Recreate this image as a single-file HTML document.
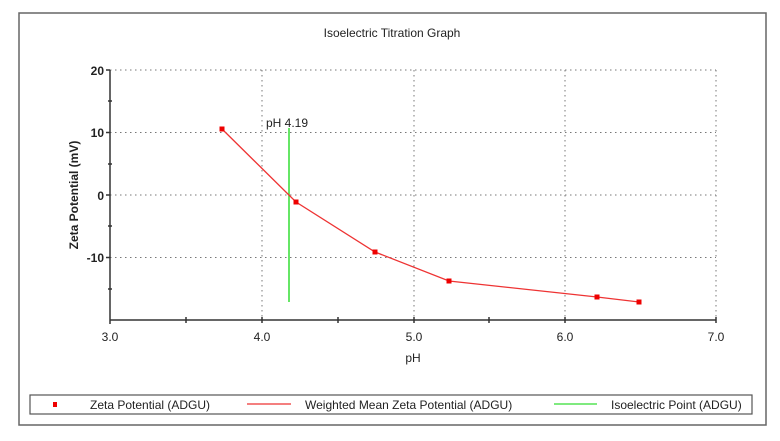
<!DOCTYPE html><html><head><style>body{margin:0;background:#fff}svg{display:block}</style></head><body>
<svg width="780" height="441" xmlns="http://www.w3.org/2000/svg" font-family="Liberation Sans, sans-serif">
<rect x="19" y="13" width="747" height="412" fill="#fff" stroke="#666" stroke-width="1.5"/>
<text x="392" y="37" font-size="12" text-anchor="middle" fill="#222">Isoelectric Titration Graph</text>
<g stroke="#777" stroke-width="1" stroke-dasharray="1.5,3.5">
<line x1="110" y1="70" x2="716" y2="70"/><line x1="110" y1="132.5" x2="716" y2="132.5"/><line x1="110" y1="195" x2="716" y2="195"/><line x1="110" y1="257.5" x2="716" y2="257.5"/>
<line x1="262" y1="70" x2="262" y2="320"/><line x1="414" y1="70" x2="414" y2="320"/><line x1="565" y1="70" x2="565" y2="320"/><line x1="716" y1="70" x2="716" y2="320"/>
</g>
<g stroke="#333" stroke-width="1.5">
<line x1="110" y1="70" x2="110" y2="320"/><line x1="110" y1="320" x2="716" y2="320"/>
<line x1="106" y1="70" x2="110" y2="70"/><line x1="106" y1="132.5" x2="110" y2="132.5"/><line x1="106" y1="195" x2="110" y2="195"/><line x1="106" y1="257.5" x2="110" y2="257.5"/>
<line x1="108" y1="101" x2="112" y2="101"/><line x1="108" y1="164" x2="112" y2="164"/><line x1="108" y1="226" x2="112" y2="226"/><line x1="108" y1="289" x2="112" y2="289"/>
<line x1="110" y1="320" x2="110" y2="324"/><line x1="186" y1="317" x2="186" y2="323"/><line x1="262" y1="317" x2="262" y2="323"/><line x1="338" y1="317" x2="338" y2="323"/><line x1="414" y1="317" x2="414" y2="323"/><line x1="489" y1="317" x2="489" y2="323"/><line x1="565" y1="317" x2="565" y2="323"/><line x1="716" y1="317" x2="716" y2="323"/>
</g>
<g font-size="12" fill="#222" text-anchor="end" font-weight="bold">
<text x="104" y="75">20</text><text x="104" y="137">10</text><text x="104" y="200">0</text><text x="104" y="262">-10</text></g>
<g font-size="12" fill="#222" text-anchor="middle">
<text x="110" y="341">3.0</text><text x="262" y="341">4.0</text><text x="414" y="341">5.0</text><text x="565" y="341">6.0</text><text x="716" y="341">7.0</text>
<text x="413" y="362">pH</text></g>
<text transform="translate(78,195) rotate(-90)" font-size="12" font-weight="bold" fill="#222" text-anchor="middle">Zeta Potential (mV)</text>
<line x1="289" y1="128" x2="289" y2="302" stroke="#3d3" stroke-width="1.5"/>
<text x="266" y="127" font-size="12" fill="#222">pH 4.19</text>
<polyline points="222,129 296,202 375,252 449,281 597,297 639,302" fill="none" stroke="#e33" stroke-width="1.3"/>
<g fill="#e00"><rect x="219.5" y="126.5" width="5" height="5"/><rect x="293.5" y="199.5" width="5" height="5"/><rect x="372.5" y="249.5" width="5" height="5"/><rect x="446.5" y="278.5" width="5" height="5"/><rect x="594.5" y="294.5" width="5" height="5"/><rect x="636.5" y="299.5" width="5" height="5"/></g>
<rect x="30" y="395" width="722" height="19" fill="#fff" stroke="#555" stroke-width="1.2"/>
<rect x="53" y="402" width="4" height="5" fill="#e00"/>
<line x1="247" y1="404" x2="291" y2="404" stroke="#e33" stroke-width="1.3"/>
<line x1="554" y1="404" x2="597" y2="404" stroke="#3d3" stroke-width="1.3"/>
<g font-size="12" fill="#222"><text x="90" y="409">Zeta Potential (ADGU)</text><text x="305" y="409">Weighted Mean Zeta Potential (ADGU)</text><text x="611" y="409">Isoelectric Point (ADGU)</text></g>
</svg></body></html>
